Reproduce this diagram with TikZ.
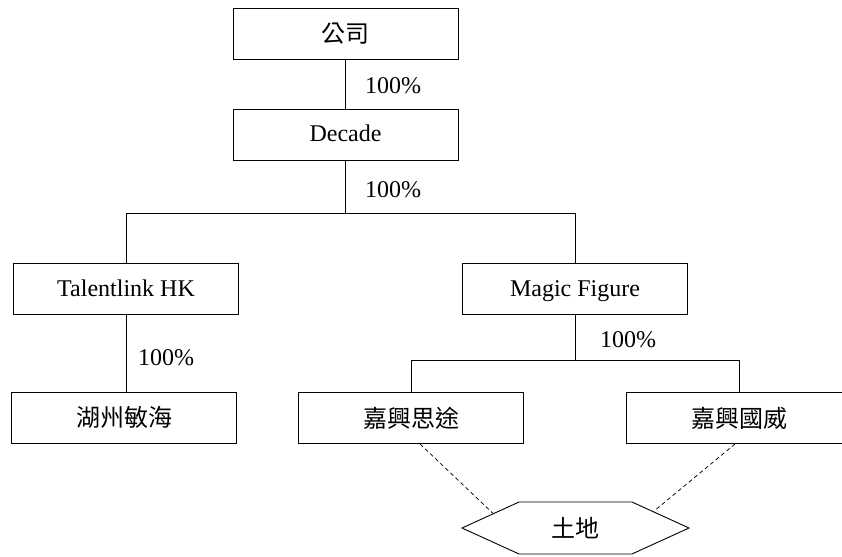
\documentclass[tikz,border=0pt]{standalone}
\usepackage{fontspec}
\setmainfont{Liberation Serif}
\newfontfamily\cjk{Noto Sans CJK TC}
\usetikzlibrary{shapes.symbols}
\begin{document}
\begin{tikzpicture}[x=1pt,y=-1pt,
  every node/.style={font=\fontsize{24}{28}\selectfont},
  box/.style={draw,line width=0.9pt,minimum width=225pt,minimum height=51pt,inner sep=0pt,text height=14pt,text depth=0pt},
  cjkbox/.style={box,text height=18pt,font=\fontsize{24}{28}\selectfont\cjk},
  pct/.style={anchor=west,inner sep=0pt},
  conn/.style={line width=0.7pt},
  dashconn/.style={line width=0.75pt,dashed,dash pattern=on 4pt off 3pt},
  hexa/.style={draw,line width=0.9pt,signal,signal to=east and west,signal pointer angle=49,minimum width=227pt,minimum height=52pt,inner sep=0pt,text height=18pt,text depth=0pt,font=\fontsize{24}{28}\selectfont\cjk}]
\clip (0,0) rectangle (842,556);
\useasboundingbox (0,0) rectangle (842,556);
\node[cjkbox] (gs) at (345.5,33.5) {公司};
\node[box] (dec) at (345.5,135) {Decade};
\node[box] (tl) at (126,289) {Talentlink HK};
\node[box] (mf) at (575,289) {Magic Figure};
\node[cjkbox] (hz) at (124,417.5) {湖州敏海};
\node[cjkbox] (jt) at (411,418) {嘉興思途};
\node[cjkbox] (jg) at (739,418) {嘉興國威};
\node[hexa] (land) at (575.5,528) {土地};
\node[pct] (l1) at (365,86) {100\%};
\node[pct] (l2) at (365,190) {100\%};
\node[pct] (l3) at (138,358) {100\%};
\node[pct] (l4) at (600,340) {100\%};
\draw[conn] (gs) -- (dec);
\draw[conn] (dec.south) -- ++(0,52) coordinate (j1);
\draw[conn] (j1) -| (tl.north);
\draw[conn] (j1) -| (mf.north);
\draw[conn] (tl.south) -- (tl.south |- hz.north);
\draw[conn] (mf.south) -- ++(0,45) coordinate (j2);
\draw[conn] (j2) -| (jt.north);
\draw[conn] (j2) -| (jg.north);
\draw[dashconn] ([xshift=9pt]jt.south) -- (land.170);
\draw[dashconn] ([xshift=-4pt]jg.south) -- (land.12);
\end{tikzpicture}
\end{document}
